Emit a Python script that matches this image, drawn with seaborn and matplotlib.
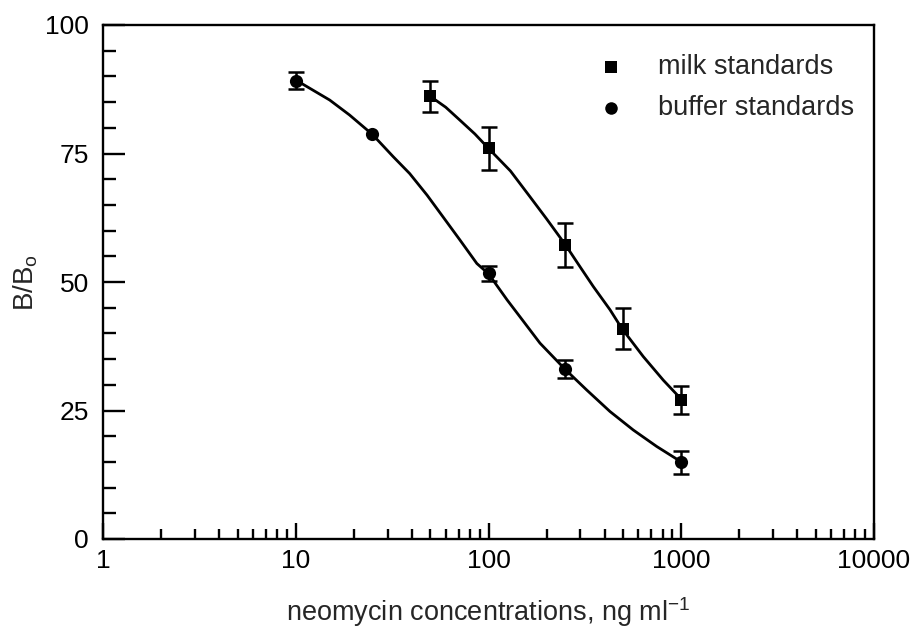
import numpy as np
import pandas as pd
import seaborn as sns
import matplotlib.pyplot as plt
from matplotlib.ticker import LogLocator, FixedLocator, MultipleLocator, NullFormatter

# measured standards (B/Bo, %)
milk_conc = [50, 100, 250, 500, 1000]
milk_bbo = [86.1, 76.0, 57.2, 40.9, 27.1]
milk_err = [3.0, 4.2, 4.2, 4.0, 2.7]

buffer_conc = [10, 25, 100, 250, 1000]
buffer_bbo = [89.2, 78.7, 51.7, 33.1, 14.9]
buffer_err = [1.7, 0.0, 1.5, 1.7, 2.2]

# fitted curves
milk_fit_x = [50, 60, 71, 85, 100, 130, 164, 200, 250, 298, 350, 427, 491, 635, 807, 1000]
milk_fit_y = [86.1, 84.0, 81.5, 78.8, 76.0, 71.6, 66.6, 62.3, 57.3, 53.0, 49.1, 44.6, 41.0, 35.5, 30.9, 27.2]

buffer_fit_x = [10, 15, 19, 25, 32, 39, 48, 58, 71, 87, 100, 125, 150, 185, 250, 323, 427, 564, 746, 1000]
buffer_fit_y = [89.3, 85.4, 82.5, 78.7, 74.4, 71.1, 66.9, 62.7, 58.2, 53.6, 51.6, 46.5, 42.6, 38.1,
                33.0, 29.0, 24.8, 21.2, 18.0, 15.0]

sns.set_style('ticks')
plt.rcParams['font.family'] = ['Liberation Sans', 'DejaVu Sans']
plt.rcParams['mathtext.default'] = 'regular'

milk = pd.DataFrame({'conc': milk_conc, 'bbo': milk_bbo, 'err': milk_err})
buf = pd.DataFrame({'conc': buffer_conc, 'bbo': buffer_bbo, 'err': buffer_err})
milk_fit = pd.DataFrame({'conc': milk_fit_x, 'bbo': milk_fit_y})
buf_fit = pd.DataFrame({'conc': buffer_fit_x, 'bbo': buffer_fit_y})

fig = plt.figure(figsize=(9.14, 6.29), dpi=100)
ax = fig.add_axes([103/914, 1-539/629, (874-103)/914, (539-25)/629])

sns.lineplot(data=milk_fit, x='conc', y='bbo', ax=ax, color='black', lw=2.0, sort=False)
sns.lineplot(data=buf_fit, x='conc', y='bbo', ax=ax, color='black', lw=2.0, sort=False)

for d in (milk, buf):
    e = d[d['err'] > 0]
    ax.errorbar(e['conc'], e['bbo'], yerr=e['err'], fmt='none', ecolor='black',
                elinewidth=1.8, capsize=6, capthick=1.8)

sns.scatterplot(data=milk, x='conc', y='bbo', ax=ax, marker='s', s=85,
                color='black', linewidth=0, label='milk standards', zorder=5)
sns.scatterplot(data=buf, x='conc', y='bbo', ax=ax, marker='o', s=90,
                color='black', linewidth=0, label='buffer standards', zorder=5)

ax.set_xscale('log')
ax.set_xlim(1, 10000)
ax.set_ylim(0, 100)

ax.xaxis.set_major_locator(FixedLocator([1, 10, 100, 1000, 10000]))
ax.set_xticklabels(['1', '10', '100', '1000', '10000'])
ax.xaxis.set_minor_locator(LogLocator(base=10, subs=np.arange(2, 10)))
ax.xaxis.set_minor_formatter(NullFormatter())
ax.yaxis.set_major_locator(MultipleLocator(25))
ax.yaxis.set_minor_locator(MultipleLocator(5))

ax.tick_params(axis='both', which='both', direction='in', width=1.7, colors='black',
               labelsize=19, top=False, right=False)
ax.tick_params(axis='y', which='major', length=16, pad=10)
ax.tick_params(axis='y', which='minor', length=9.5)
ax.tick_params(axis='x', which='major', length=11.5, pad=7)
ax.tick_params(axis='x', which='minor', length=7)

for sp in ax.spines.values():
    sp.set_visible(True)
    sp.set_linewidth(1.7)
    sp.set_color('black')

ax.set_xlabel('neomycin concentrations, ng ml$^{-1}$', fontsize=19.5, labelpad=16)
ax.set_ylabel('B/B$_{o}$', fontsize=20, labelpad=4)

ax.legend(loc='upper left', bbox_to_anchor=(597/914, 1-54/629), bbox_transform=fig.transFigure,
          frameon=False, fontsize=19.5, handlelength=1.0, handletextpad=1.25,
          labelspacing=0.55, borderpad=0, borderaxespad=0, markerscale=0.95)

fig.savefig('out.png', dpi=100)
